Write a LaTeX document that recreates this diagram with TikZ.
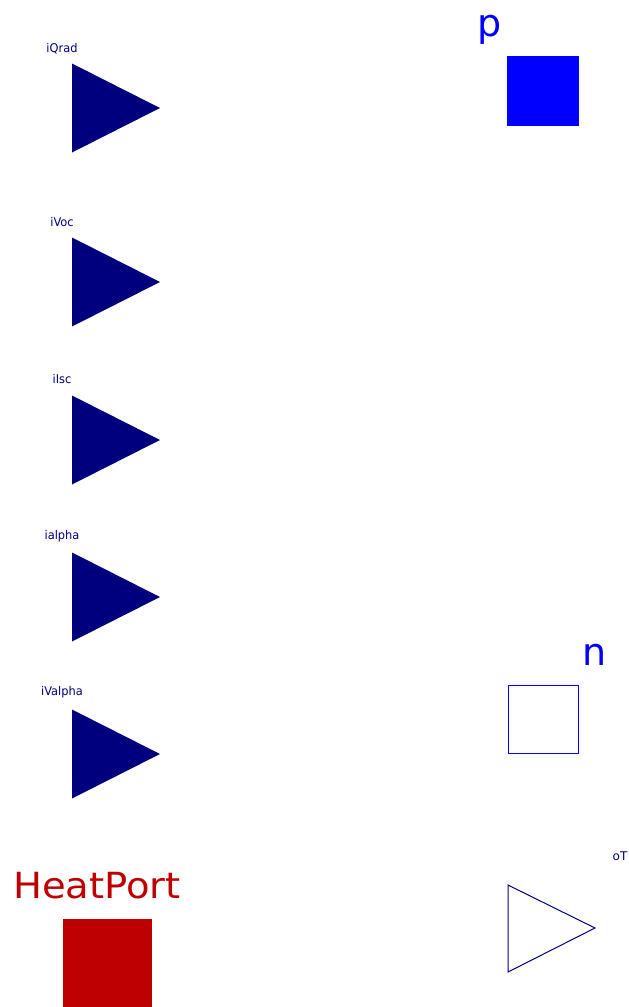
\documentclass[tikz,border=0pt]{standalone}
\usepackage{fontspec}
\setmainfont{DejaVu Sans}
\definecolor{navy}{RGB}{0,0,127}
\definecolor{portblue}{RGB}{0,0,255}
\definecolor{heatred}{RGB}{191,0,0}
\tikzset{
  inport/.style={fill=navy, draw=none},
  small/.style={font=\fontsize{12}{12}\selectfont, text=navy, inner sep=0pt, anchor=base},
  big/.style={font=\fontsize{38}{38}\selectfont, text=portblue, inner sep=0pt, anchor=base},
}
\begin{document}
\begin{tikzpicture}[x=1pt,y=-1pt]
\useasboundingbox (0,0) rectangle (629,1007);
% input triangles
\foreach \c/\nm/\txt/\by in {108/qrad/iQrad/52, 282/voc/iVoc/226, 440/isc/iIsc/383, 597/alpha/ialpha/539, 754/valpha/iValpha/695}{
  \fill[navy] (72,\c-44.5) -- (160,\c) -- (72,\c+44.5) -- cycle;
  \node[small] (l\nm) at (62,\by) {\scalebox{0.95}[1]{\txt}};
}
% p pin
\fill[portblue] (507,56) rectangle (579,126);
\node[big] (lp) at (490,36) {p};
% n pin
\draw[portblue, line width=1pt] (508,685) rectangle (578,753);
\node[big] (ln) at (595,665) {n};
% output oT
\draw[navy, line width=1pt, line join=miter] (508,885) -- (595,928) -- (508,972) -- cycle;
\node[small] (loT) at (620,860) {oT};
% heat port
\fill[heatred] (63,919) rectangle (152,1007);
\node[font=\fontsize{36}{36}\selectfont, text=heatred, inner sep=0pt, anchor=base] (lheat) at (97,898) {\scalebox{1.07}[1]{HeatPort}};
\end{tikzpicture}
\end{document}
